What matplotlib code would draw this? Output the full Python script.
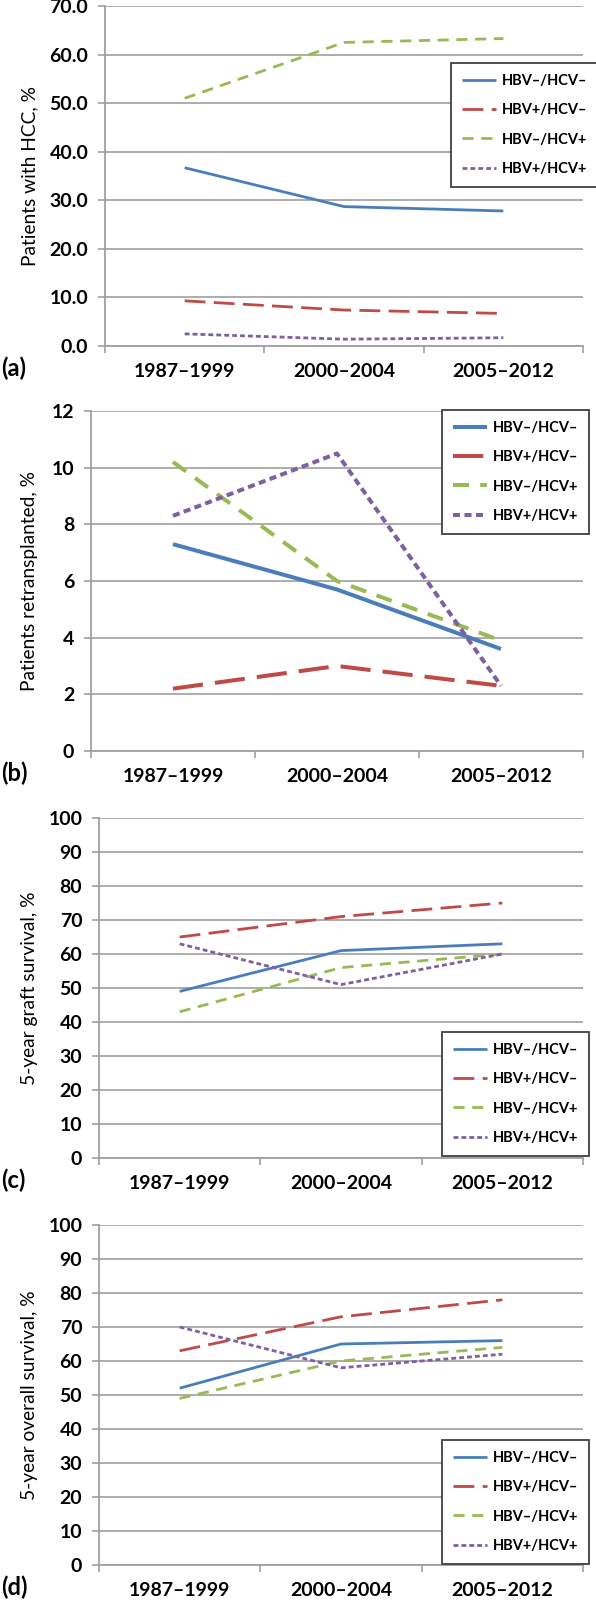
import matplotlib
matplotlib.use('Agg')
import matplotlib.pyplot as plt

plt.rcParams['font.family'] = ['Lato', 'DejaVu Sans']
plt.rcParams['lines.scale_dashes'] = False

# datos
periods = ['1987–1999', '2000–2004', '2005–2012']
groups = ['HBV–/HCV–', 'HBV+/HCV–', 'HBV–/HCV+', 'HBV+/HCV+']

hcc_neg_neg = [36.7, 28.7, 27.8]
hcc_pos_neg = [9.3, 7.4, 6.7]
hcc_neg_pos = [51.0, 62.5, 63.3]
hcc_pos_pos = [2.5, 1.4, 1.7]

retx_neg_neg = [7.3, 5.7, 3.6]
retx_pos_neg = [2.2, 3.0, 2.3]
retx_neg_pos = [10.2, 6.0, 3.9]
retx_pos_pos = [8.3, 10.5, 2.3]

graft_neg_neg = [49, 61, 63]
graft_pos_neg = [65, 71, 75]
graft_neg_pos = [43, 56, 60]
graft_pos_pos = [63, 51, 60]

overall_neg_neg = [52, 65, 66]
overall_pos_neg = [63, 73, 78]
overall_neg_pos = [49, 60, 64]
overall_pos_pos = [70, 58, 62]

colors = ['#4a7ebb', '#be4b48', '#98b954', '#7d60a0']
dashes = [None, (15, 6), (8, 5.5), (3.5, 2.2)]

W, H = 596, 1600
fig = plt.figure(figsize=(W / 100, H / 100), dpi=100)


def px_axes(left, top, bottom, right=583):
    return fig.add_axes([left / W, 1 - bottom / H, (right - left) / W, (bottom - top) / H])


def panel(series, left, top, bottom, ymax, ystep, fmt, ylabel, tag, leg_xy, lw):
    ax = px_axes(left, top, bottom)
    x = list(range(len(periods)))
    k = lw / 2.0
    for s, c, d, name in zip(series, colors, dashes, groups):
        line, = ax.plot(x, s, color=c, lw=lw, label=name, solid_capstyle='butt',
                        dash_capstyle='butt')
        if d is not None:
            line.set_dashes((d[0] * k, d[1] * k))
    ax.set_xlim(-0.5, 2.5)
    ax.set_ylim(0, ymax)
    yt = [i * ystep for i in range(int(round(ymax / ystep)) + 1)]
    ax.set_yticks(yt)
    ax.set_yticklabels([fmt.format(v) for v in yt], fontsize=14, fontweight='bold')
    ax.set_xticks(x)
    ax.set_xticklabels(periods, fontsize=14, fontweight='bold')
    ax.set_xticks([-0.5, 0.5, 1.5, 2.5], minor=True)
    ax.tick_params(axis='x', which='major', length=0, pad=12)
    ax.tick_params(axis='x', which='minor', length=5, width=1.2, color='#a0a0a0', direction='out')
    ax.tick_params(axis='y', length=5, width=1.2, color='#a0a0a0', pad=7)
    ax.grid(axis='y', color='#a6a6a6', lw=1.3)
    ax.set_axisbelow(True)
    for sp in ['top', 'right']:
        ax.spines[sp].set_visible(False)
    for sp in ['left', 'bottom']:
        ax.spines[sp].set_color('#a0a0a0')
        ax.spines[sp].set_linewidth(1.3)
    ax.set_ylabel(ylabel, fontsize=13.8)
    ax.yaxis.set_label_coords((38 - left) / (583 - left), 0.5)
    fig.text(1 / W, 1 - (bottom + 22) / H, tag, fontsize=17, fontweight='bold',
             va='center', ha='left')
    lx, ly = leg_xy
    leg = ax.legend(loc='upper left', bbox_to_anchor=(lx / W, 1 - ly / H),
                    bbox_transform=fig.transFigure, borderaxespad=0,
                    prop={'size': 10.5, 'weight': 'bold'}, handlelength=2.35,
                    handletextpad=0.4, labelspacing=1.05, borderpad=0.75,
                    frameon=True, fancybox=False, framealpha=1)
    leg.get_frame().set_edgecolor('#404040')
    leg.get_frame().set_linewidth(1.3)
    return ax


panel([hcc_neg_neg, hcc_pos_neg, hcc_neg_pos, hcc_pos_pos], 105, 6, 346, 70, 10, '{:.1f}',
      'Patients with HCC, %', '(a)', (451, 63), 2.0)
panel([retx_neg_neg, retx_pos_neg, retx_neg_pos, retx_pos_pos], 91, 411, 751, 12, 2, '{:d}',
      'Patients retransplanted, %', '(b)', (442, 410), 2.9)
panel([graft_neg_neg, graft_pos_neg, graft_neg_pos, graft_pos_pos], 99, 818, 1158, 100, 10, '{:d}',
      '5-year graft survival, %', '(c)', (442, 1032), 2.0)
panel([overall_neg_neg, overall_pos_neg, overall_neg_pos, overall_pos_pos], 99, 1225, 1565, 100, 10, '{:d}',
      '5-year overall survival, %', '(d)', (442, 1440), 2.0)

fig.savefig('out.png', dpi=100)
